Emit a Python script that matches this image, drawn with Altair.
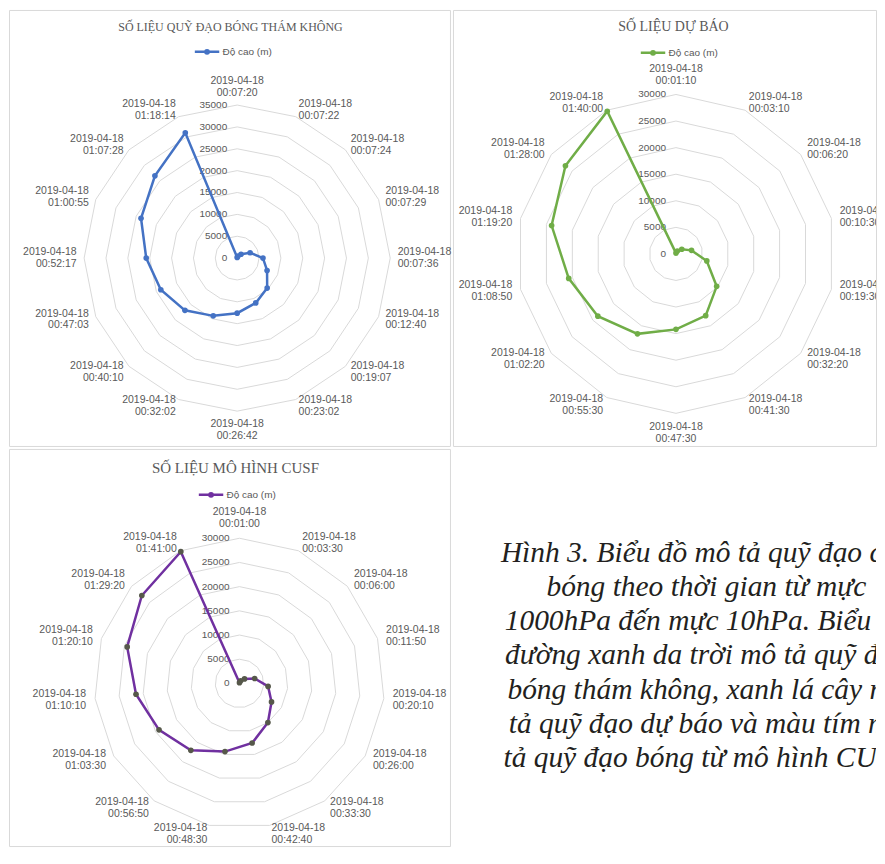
import math
import altair as alt
import pandas as pd

# ---------------- data ----------------
DATE = "2019-04-18"
SERIES = "Độ cao (m)"

TIMES_1 = ["00:07:20", "00:07:22", "00:07:24", "00:07:29", "00:07:36", "00:12:40",
           "00:19:07", "00:23:02", "00:26:42", "00:32:02", "00:40:10", "00:47:03",
           "00:52:17", "01:00:55", "01:07:28", "01:18:14"]
HEIGHT_1 = [150, 500, 1250, 3200, 5900, 7400, 9700, 11100, 12600, 14300, 16900,
            18900, 20800, 23800, 26600, 31000]

TIMES_2 = ["00:01:10", "00:03:10", "00:06:20", "00:10:30", "00:19:30", "00:32:20",
           "00:41:30", "00:47:30", "00:55:30", "01:02:20", "01:08:50", "01:19:20",
           "01:28:00", "01:40:00"]
HEIGHT_2 = [150, 600, 1400, 3000, 5950, 9800, 12900, 14200, 16700, 18800, 20700,
            24000, 26600, 29800]

TIMES_3 = ["00:01:00", "00:03:30", "00:06:00", "00:11:50", "00:20:10", "00:26:00",
           "00:33:30", "00:42:40", "00:48:30", "00:56:50", "01:03:30", "01:10:10",
           "01:20:10", "01:29:20", "01:41:00"]
HEIGHT_3 = [150, 600, 1400, 3300, 5950, 7650, 10000, 12600, 14400, 17100, 19200,
            21500, 24400, 27150, 29800]

TITLES = ["SỐ LIỆU QUỸ ĐẠO BÓNG THÁM KHÔNG", "SỐ LIỆU DỰ BÁO", "SỐ LIỆU MÔ HÌNH CUSF"]
AXIS_MAX = [35000, 30000, 30000]
AXIS_STEP = 5000

CAPTION = [
    "Hình 3. Biểu đồ mô tả quỹ đạo của",
    "bóng theo thời gian từ mực",
    "1000hPa đến mực 10hPa. Biểu đồ",
    "đường xanh da trời mô tả quỹ đạo",
    "bóng thám không, xanh lá cây mô",
    "tả quỹ đạo dự báo và màu tím mô",
    "tả quỹ đạo bóng từ mô hình CUSF",
]

# ---------------- style ----------------
GRID = "#d9d9d9"
TXT = "#595959"
SANS = "Liberation Sans"
SERIF = "Liberation Serif"
LEGEND_SYMBOL = "M-1,0L1,0M-0.14,0A0.14,0.14,0,1,1,0.14,0A0.14,0.14,0,1,1,-0.14,0Z"
LABEL_LH = 12

COL1_W, COL2_W = 442, 424
ROW1_H, ROW2_H = 437, 398


def radar(times, heights, title, vmax, *, color, marker_fill, title_size, title_x,
          title_y, R, cx, cy, W, H, leg_x, leg_y, gap, clip_labels=False):
    n = len(times)
    k = R / vmax  # pixels per metre
    xsc = alt.Scale(domain=[-cx / k, (W - cx) / k], nice=False, zero=False)
    ysc = alt.Scale(domain=[-(H - cy) / k, cy / k], nice=False, zero=False)
    ang = f"(2*PI*datum.i/{n})"
    X = alt.X("x:Q", scale=xsc, axis=None)
    Y = alt.Y("y:Q", scale=ysc, axis=None)

    ring_vals = list(range(AXIS_STEP, vmax + 1, AXIS_STEP))
    rings = pd.DataFrame([{"ring": v, "i": j} for v in ring_vals for j in range(n + 1)])
    ring_layer = (
        alt.Chart(rings)
        .transform_calculate(x=f"datum.ring*sin({ang})", y=f"datum.ring*cos({ang})")
        .mark_line(stroke=GRID, strokeWidth=1)
        .encode(x=X, y=Y, detail="ring:N", order="i:Q")
    )

    ticks = pd.DataFrame({"v": list(range(0, vmax + 1, AXIS_STEP))})
    tick_layer = (
        alt.Chart(ticks)
        .transform_calculate(x="0*datum.v", y="datum.v", t="format(datum.v, 'd')")
        .mark_text(align="right", baseline="middle", dx=-10, font=SANS, fontSize=10,
                   color=TXT)
        .encode(x=X, y=Y, text="t:N")
    )

    series = pd.DataFrame([{"i": i, "h": heights[i % n], "s": SERIES} for i in range(n + 1)])
    base = alt.Chart(series).transform_calculate(
        x=f"datum.h*sin({ang})", y=f"datum.h*cos({ang})"
    )
    line_layer = base.mark_line(strokeWidth=2.5).encode(
        x=X, y=Y, order="i:Q",
        color=alt.Color(
            "s:N",
            scale=alt.Scale(domain=[SERIES], range=[color]),
            legend=alt.Legend(
                title=None, orient="none", legendX=leg_x, legendY=leg_y,
                symbolType=LEGEND_SYMBOL, symbolSize=600, symbolStrokeWidth=2.5,
                labelFont=SANS, labelFontSize=10, labelColor=TXT, labelOffset=2,
                padding=0,
            ),
        ),
    )
    point_layer = base.transform_filter(f"datum.i < {n}").mark_circle(
        size=32, opacity=1, color=marker_fill
    ).encode(x=X, y=Y)

    rl = vmax * (R + gap) / R
    labels = pd.DataFrame({"i": list(range(n)), "lab": [f"{DATE}\n{t}" for t in times]})
    lab_base = alt.Chart(labels).transform_calculate(
        x=f"{rl}*sin({ang})", y=f"{rl}*cos({ang})", s=f"sin({ang})", c=f"cos({ang})"
    )
    common = dict(font=SANS, fontSize=10.5, color=TXT, lineBreak="\n",
                  lineHeight=LABEL_LH, clip=clip_labels)
    lab_layers = [
        lab_base.transform_filter("abs(datum.s) < 1e-6 && datum.c > 0")
        .mark_text(align="center", baseline="bottom", dy=-LABEL_LH, **common)
        .encode(x=X, y=Y, text="lab:N"),
        lab_base.transform_filter("abs(datum.s) < 1e-6 && datum.c < 0")
        .mark_text(align="center", baseline="top", **common)
        .encode(x=X, y=Y, text="lab:N"),
        lab_base.transform_filter("datum.s >= 1e-6")
        .mark_text(align="left", baseline="middle", dy=-LABEL_LH / 2, **common)
        .encode(x=X, y=Y, text="lab:N"),
        lab_base.transform_filter("datum.s <= -1e-6")
        .mark_text(align="right", baseline="middle", dy=-LABEL_LH / 2, **common)
        .encode(x=X, y=Y, text="lab:N"),
    ]

    title_layer = (
        alt.Chart(pd.DataFrame({"t": [title]}))
        .mark_text(font=SERIF, fontSize=title_size, color=TXT, align="center",
                   baseline="middle")
        .encode(text="t:N", x=alt.value(title_x), y=alt.value(title_y))
    )

    return alt.layer(ring_layer, tick_layer, line_layer, point_layer, *lab_layers,
                     title_layer).properties(width=W, height=H)


# page offsets: col1 at x=8, col2 at x=8+442+3=453; row1 at y=8, row2 at y=448
p1 = radar(TIMES_1, HEIGHT_1, TITLES[0], AXIS_MAX[0], color="#4472C4", marker_fill="#4472C4",
           title_size=12, title_x=222, title_y=17, R=153.4, cx=228.7, cy=248.7,
           W=COL1_W, H=ROW1_H, leg_x=185, leg_y=28.5, gap=7.5)
p2 = radar(TIMES_2, HEIGHT_2, TITLES[1], AXIS_MAX[1], color="#70AD47", marker_fill="#70AD47",
           title_size=14, title_x=221, title_y=17, R=159.8, cx=223.5, cy=244.5,
           W=COL2_W, H=ROW1_H, leg_x=187, leg_y=29.5, gap=8.5, clip_labels=True)
p3 = radar(TIMES_3, HEIGHT_3, TITLES[2], AXIS_MAX[2], color="#7030A0", marker_fill="#56584a",
           title_size=15, title_x=227, title_y=19, R=145.5, cx=231, cy=235,
           W=COL1_W, H=ROW2_H, leg_x=189, leg_y=32.5, gap=9)

cap = (
    alt.Chart(pd.DataFrame({"t": ["\n".join(CAPTION)]}))
    .mark_text(font=SERIF, fontStyle="italic", fontSize=29.5, lineHeight=34.3,
               lineBreak="\n", align="center", baseline="alphabetic", color="#231f20",
               clip=True)
    .encode(text="t:N", x=alt.value(254), y=alt.value(113))
    .properties(width=COL2_W, height=ROW2_H, view=alt.ViewBackground(strokeOpacity=0))
)

chart = (
    alt.concat(p1, p2, p3, cap, columns=2, spacing=3, bounds="flush")
    .resolve_scale(x="independent", y="independent", color="independent")
    .properties(padding=0, background="white")
    .configure_view(stroke=GRID, strokeWidth=1)
)

chart.save("out.html", embed_options={"renderer": "svg", "actions": False})
